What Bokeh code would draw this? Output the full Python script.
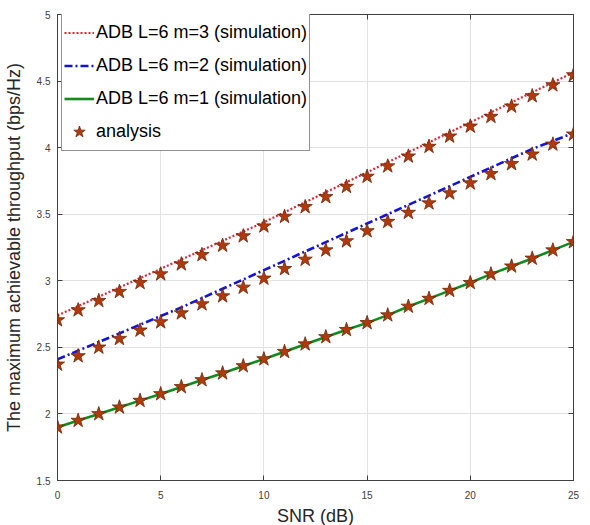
from bokeh.plotting import figure
from bokeh.models import (Range1d, LinearAxis, FixedTicker, Legend, LegendItem,
                          CustomJSTickFormatter)
from bokeh.embed import file_html
from bokeh.resources import INLINE

snr = list(range(26))

x_ticks = [0, 5, 10, 15, 20, 25]
y_ticks = [1.5, 2, 2.5, 3, 3.5, 4, 4.5, 5]

labels = ["ADB L=6 m=3 (simulation)", "ADB L=6 m=2 (simulation)",
          "ADB L=6 m=1 (simulation)", "analysis"]

sim_m3 = [2.74, 2.81, 2.88, 2.95, 3.02, 3.09, 3.16, 3.23, 3.30, 3.37, 3.44, 3.515, 3.59,
          3.665, 3.74, 3.815, 3.89, 3.965, 4.04, 4.115, 4.19, 4.265, 4.34, 4.415, 4.49, 4.565]
sim_m2 = [2.41, 2.475, 2.54, 2.605, 2.67, 2.735, 2.80, 2.87, 2.94, 3.01, 3.08, 3.15, 3.22,
          3.29, 3.36, 3.43, 3.50, 3.57, 3.64, 3.71, 3.78, 3.85, 3.92, 3.99, 4.05, 4.11]
sim_m1 = [1.90, 1.95, 2.0, 2.05, 2.10, 2.15, 2.203, 2.255, 2.306, 2.36, 2.412, 2.467, 2.524,
          2.578, 2.632, 2.684, 2.742, 2.807, 2.866, 2.926, 2.985, 3.05, 3.109, 3.168, 3.23, 3.292]

ana_m3 = [2.705, 2.78, 2.85, 2.918, 2.985, 3.05, 3.125, 3.195, 3.265, 3.336, 3.41, 3.482, 3.555,
          3.63, 3.707, 3.783, 3.861, 3.935, 4.008, 4.085, 4.16, 4.233, 4.31, 4.388, 4.47, 4.545]
ana_m2 = [2.372, 2.435, 2.50, 2.565, 2.628, 2.69, 2.757, 2.825, 2.885, 2.95, 3.018, 3.09, 3.16,
          3.23, 3.298, 3.374, 3.444, 3.512, 3.583, 3.658, 3.733, 3.803, 3.878, 3.95, 4.025, 4.10]
ana_m1 = [1.90, 1.95, 2.0, 2.05, 2.10, 2.15, 2.203, 2.255, 2.306, 2.36, 2.412, 2.467, 2.524,
          2.578, 2.632, 2.684, 2.742, 2.807, 2.866, 2.926, 2.985, 3.05, 3.109, 3.168, 3.23, 3.292]

FONT = "Liberation Sans"
AX = "#404040"

p = figure(frame_width=516, frame_height=466,
           min_border_left=57, min_border_right=17, min_border_top=14, min_border_bottom=45,
           x_range=Range1d(0, 25), y_range=Range1d(1.5, 5),
           output_backend="svg", toolbar_location=None,
           x_axis_label="SNR (dB)",
           y_axis_label="The maximum achievable throughput (bps/Hz)")
p.outline_line_color = AX
p.outline_line_width = 1
p.background_fill_color = "white"

fmt = CustomJSTickFormatter(code="return tick.toString();")

for ax, ticks in ((p.xaxis[0], x_ticks), (p.yaxis[0], y_ticks)):
    ax.ticker = FixedTicker(ticks=ticks)
    ax.formatter = fmt
    ax.axis_line_color = AX
    ax.major_tick_line_color = AX
    ax.major_tick_in = 5
    ax.major_tick_out = 0
    ax.minor_tick_line_color = None
    ax.major_label_text_font = FONT
    ax.major_label_text_font_size = "10px"
    ax.major_label_text_color = AX
    ax.axis_label_text_font = FONT
    ax.axis_label_text_font_size = "18px"
    ax.axis_label_text_font_style = "normal"
    ax.axis_label_text_color = "#262626"

p.xaxis[0].major_label_standoff = 10
p.xaxis[0].axis_label_standoff = 4
p.yaxis[0].major_label_standoff = 7
p.yaxis[0].axis_label_standoff = 10

for side, ticks in (("above", x_ticks), ("right", y_ticks)):
    a = LinearAxis(ticker=FixedTicker(ticks=ticks), axis_line_color=AX,
                   major_tick_line_color=AX, major_tick_in=5, major_tick_out=0,
                   minor_tick_line_color=None, major_label_text_font_size="0px",
                   major_label_standoff=0, major_label_text_alpha=0)
    p.add_layout(a, side)

p.xgrid.ticker = FixedTicker(ticks=x_ticks)
p.ygrid.ticker = FixedTicker(ticks=y_ticks)
p.grid.grid_line_color = "#E2E2E2"
p.grid.grid_line_width = 1

r3 = p.line(snr, sim_m3, line_color="#E3253A", line_dash="2 2", line_width=2.2)
r2 = p.line(snr, sim_m2, line_color="#1414D8", line_dash="8 3 2 3", line_width=2.6)
r1 = p.line(snr, sim_m1, line_color="#118A1E", line_width=2.6)

star_kw = dict(marker="star", size=15, fill_color="#B13A0C", line_color="#6E2406",
               line_width=0.8)
s3 = p.scatter(snr, ana_m3, **star_kw)
s2 = p.scatter(snr, ana_m2, **star_kw)
s1 = p.scatter(snr, ana_m1, **star_kw)

legend = Legend(items=[LegendItem(label=labels[0], renderers=[r3]),
                       LegendItem(label=labels[1], renderers=[r2]),
                       LegendItem(label=labels[2], renderers=[r1]),
                       LegendItem(label=labels[3], renderers=[s3])],
                location=(4, 329))
legend.border_line_color = "#262626"
legend.border_line_width = 1
legend.background_fill_color = "white"
legend.background_fill_alpha = 1
legend.label_text_font = FONT
legend.label_text_font_size = "18px"
legend.label_text_color = "#000000"
legend.glyph_width = 30
legend.glyph_height = 33
legend.label_height = 33
legend.spacing = 0
legend.padding = 2
legend.label_standoff = 2
legend.margin = 0
p.add_layout(legend)

open("out.html", "w").write(file_html(p, INLINE))
